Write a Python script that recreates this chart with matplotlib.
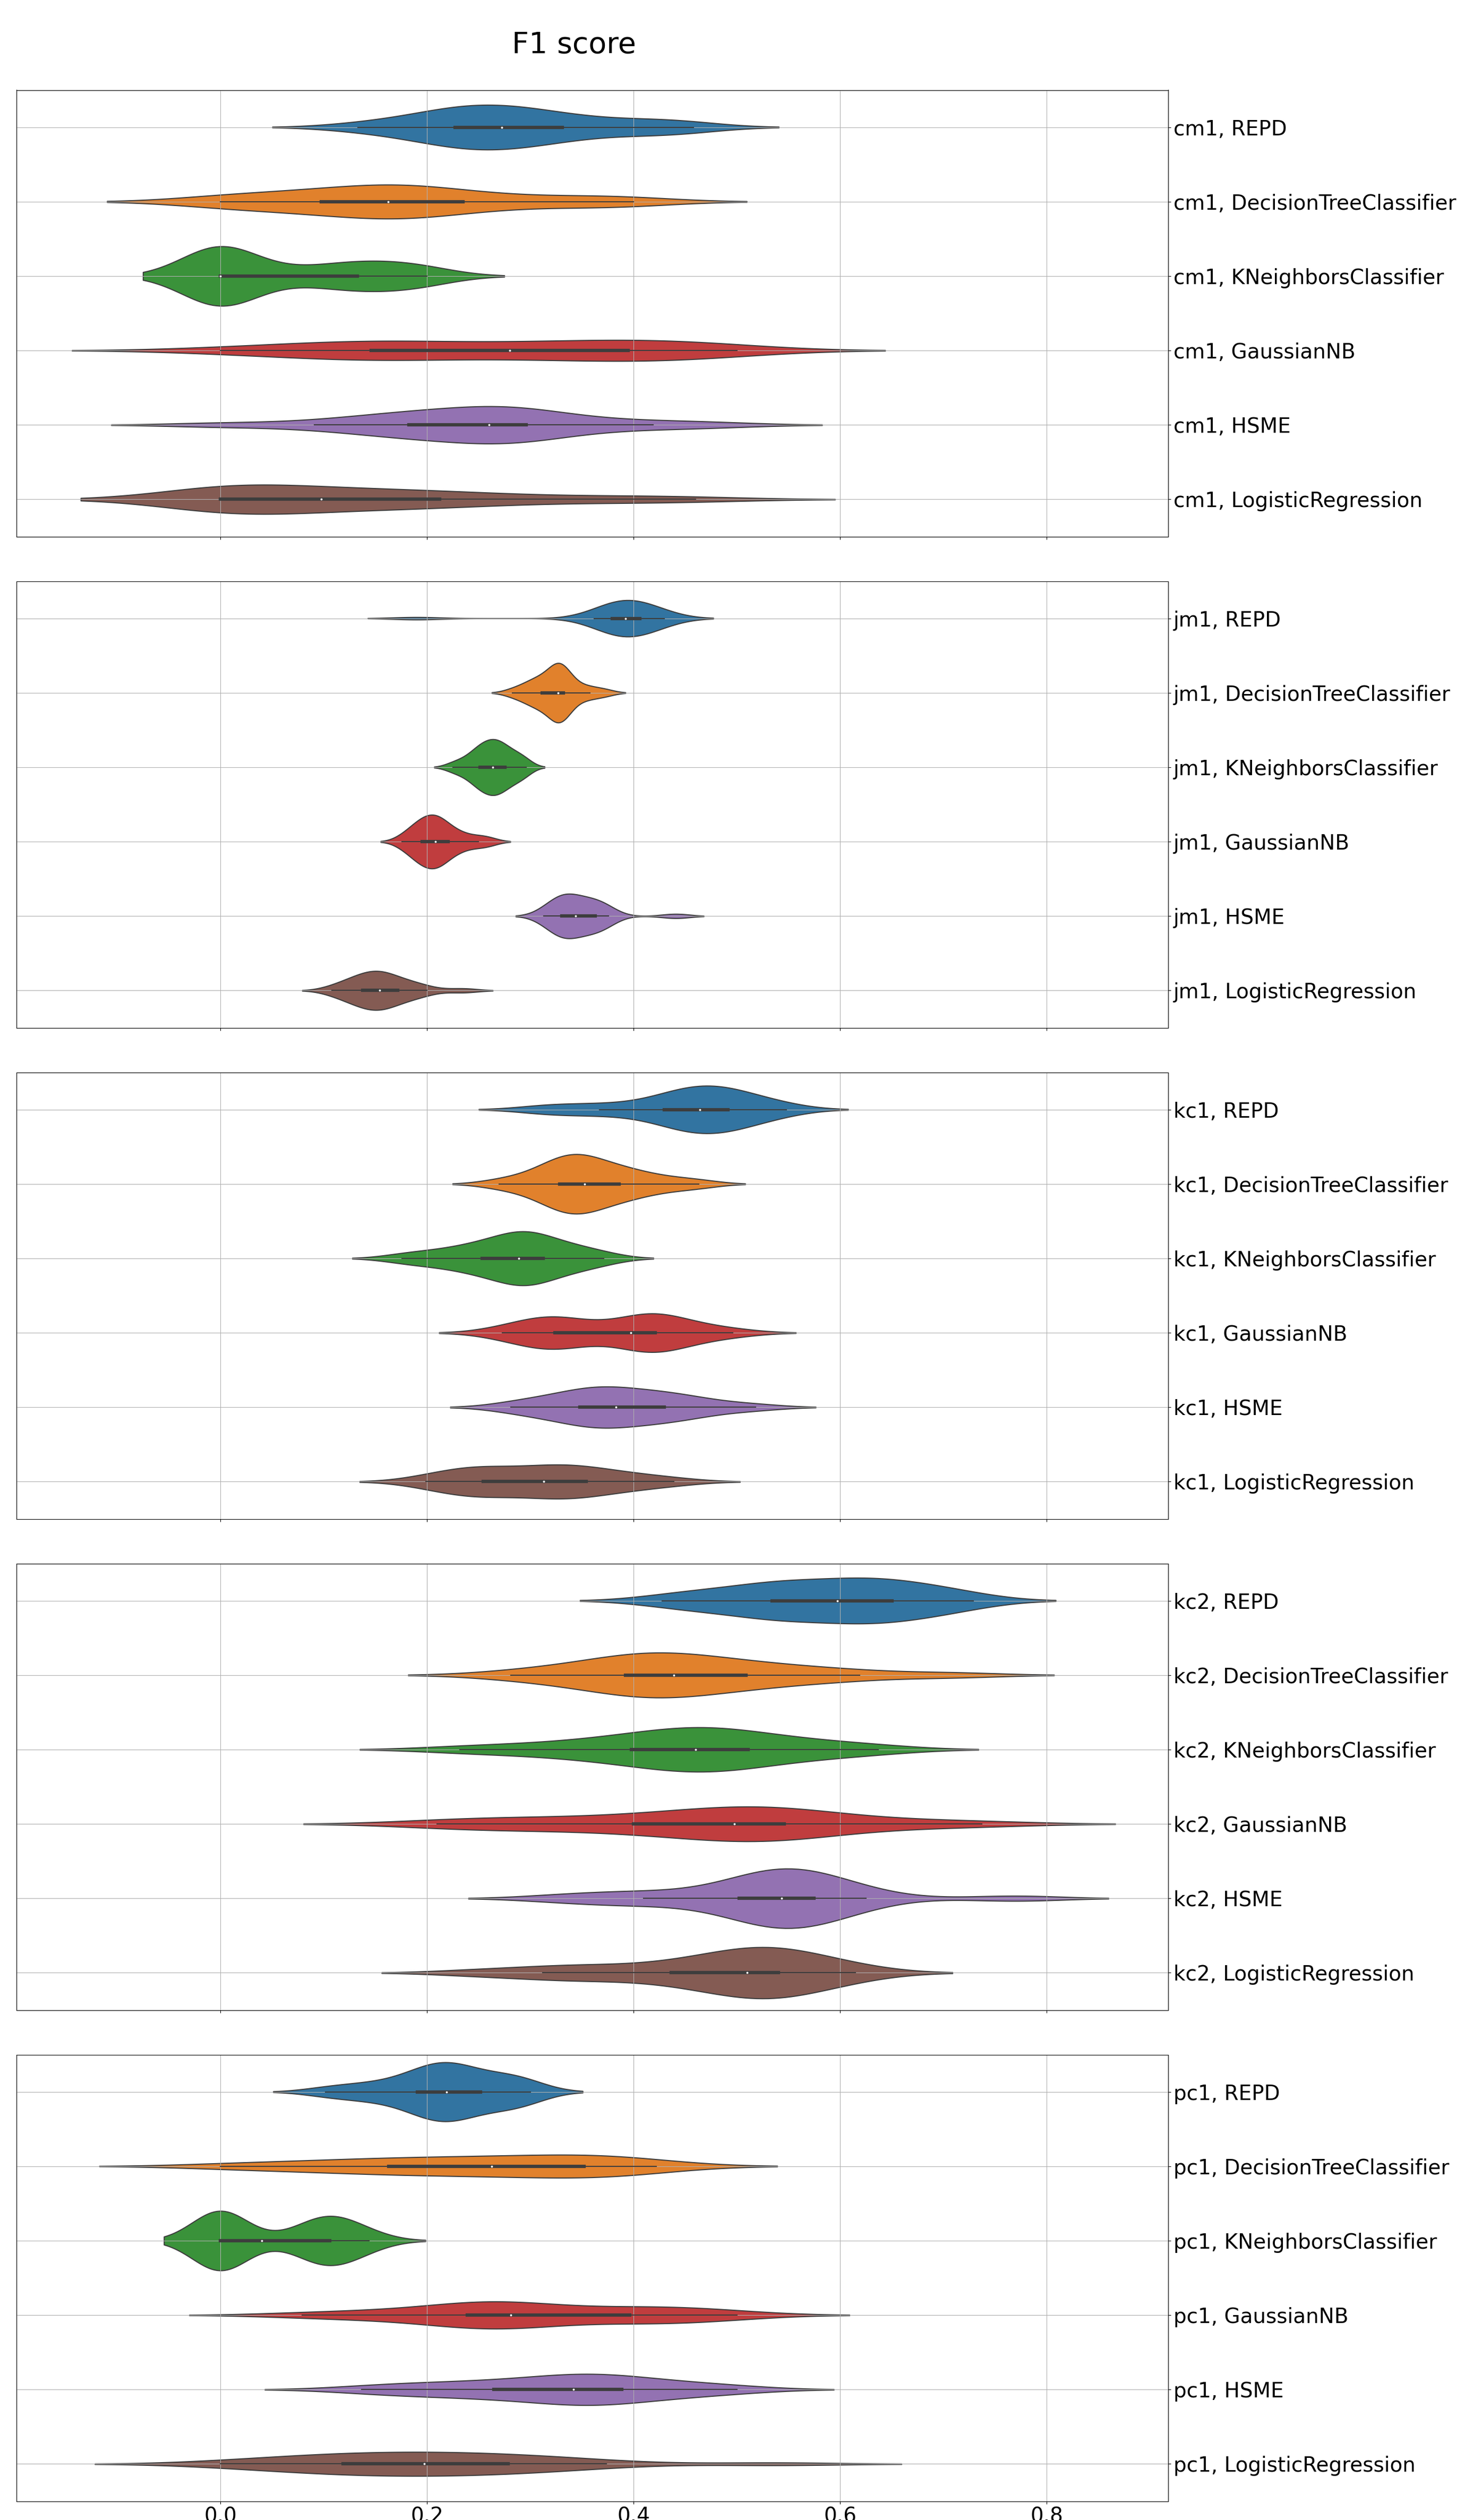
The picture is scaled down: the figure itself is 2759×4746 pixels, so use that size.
import numpy as np
import pandas as pd
import matplotlib
matplotlib.use("Agg")
import matplotlib.pyplot as plt
import seaborn as sns

datasets = ["cm1", "jm1", "kc1", "kc2", "pc1"]
models = ["REPD", "DecisionTreeClassifier", "KNeighborsClassifier",
          "GaussianNB", "HSME", "LogisticRegression"]

# ---- F1 scores per dataset / model (estimated from the figure) ----
cm1_REPD = [0.133, 0.17, 0.195, 0.21, 0.22, 0.23, 0.24, 0.25, 0.26, 0.265,
            0.28, 0.29, 0.30, 0.31, 0.325, 0.35, 0.37, 0.41, 0.43, 0.458]
cm1_DT = [0.0, 0.0, 0.04, 0.07, 0.09, 0.10, 0.125, 0.15, 0.157, 0.16,
          0.165, 0.185, 0.195, 0.205, 0.23, 0.25, 0.29, 0.34, 0.38, 0.40]
cm1_KNN = [0.0, 0.0, 0.0, 0.0, 0.0, 0.0, 0.0, 0.0, 0.0, 0.0,
           0.0, 0.07, 0.10, 0.12, 0.13, 0.14, 0.16, 0.18, 0.19, 0.20]
cm1_GNB = [0.0, 0.05, 0.09, 0.12, 0.14, 0.148, 0.17, 0.20, 0.23, 0.26,
           0.30, 0.32, 0.35, 0.37, 0.39, 0.41, 0.43, 0.45, 0.47, 0.50]
cm1_HSME = [0.0, 0.091, 0.13, 0.16, 0.175, 0.185, 0.20, 0.22, 0.24, 0.255,
            0.265, 0.27, 0.28, 0.29, 0.295, 0.30, 0.33, 0.37, 0.419, 0.477]
cm1_LR = [0.0, 0.0, 0.0, 0.0, 0.0, 0.0, 0.03, 0.06, 0.085, 0.095,
          0.10, 0.13, 0.16, 0.19, 0.21, 0.22, 0.27, 0.33, 0.40, 0.46]

jm1_REPD = [0.19, 0.362, 0.37, 0.375, 0.378, 0.38, 0.385, 0.388, 0.39, 0.392,
            0.393, 0.396, 0.40, 0.403, 0.405, 0.41, 0.415, 0.42, 0.424, 0.43]
jm1_DT = [0.283, 0.295, 0.30, 0.305, 0.31, 0.312, 0.318, 0.322, 0.325, 0.326,
          0.328, 0.329, 0.33, 0.331, 0.332, 0.333, 0.34, 0.35, 0.358, 0.372]
jm1_KNN = [0.225, 0.235, 0.242, 0.247, 0.25, 0.252, 0.255, 0.258, 0.261, 0.263,
           0.265, 0.267, 0.27, 0.272, 0.275, 0.278, 0.282, 0.287, 0.292, 0.296]
jm1_GNB = [0.176, 0.183, 0.188, 0.192, 0.194, 0.196, 0.199, 0.202, 0.205, 0.207,
           0.209, 0.211, 0.213, 0.216, 0.219, 0.225, 0.23, 0.238, 0.25, 0.26]
jm1_HSME = [0.313, 0.32, 0.324, 0.327, 0.329, 0.331, 0.334, 0.336, 0.339, 0.342,
            0.346, 0.349, 0.353, 0.358, 0.362, 0.366, 0.369, 0.372, 0.376, 0.441]
jm1_LR = [0.108, 0.118, 0.125, 0.13, 0.135, 0.139, 0.142, 0.145, 0.149, 0.152,
          0.156, 0.158, 0.161, 0.164, 0.17, 0.176, 0.182, 0.19, 0.2, 0.235]

kc1_REPD = [0.31, 0.335, 0.367, 0.39, 0.42, 0.433, 0.44, 0.445, 0.452, 0.46,
            0.468, 0.472, 0.478, 0.485, 0.49, 0.495, 0.505, 0.515, 0.53, 0.548]
kc1_DT = [0.27, 0.295, 0.31, 0.32, 0.325, 0.33, 0.335, 0.34, 0.343, 0.35,
          0.355, 0.358, 0.364, 0.372, 0.385, 0.39, 0.40, 0.415, 0.435, 0.463]
kc1_KNN = [0.176, 0.2, 0.22, 0.235, 0.248, 0.255, 0.265, 0.275, 0.282, 0.287,
           0.291, 0.295, 0.30, 0.305, 0.31, 0.32, 0.33, 0.34, 0.355, 0.371]
kc1_GNB = [0.273, 0.29, 0.305, 0.315, 0.32, 0.325, 0.33, 0.34, 0.36, 0.39,
           0.405, 0.41, 0.415, 0.418, 0.42, 0.425, 0.435, 0.45, 0.47, 0.496]
kc1_HSME = [0.281, 0.30, 0.318, 0.333, 0.343, 0.35, 0.358, 0.365, 0.372, 0.378,
            0.388, 0.395, 0.405, 0.415, 0.428, 0.435, 0.445, 0.46, 0.48, 0.518]
kc1_LR = [0.199, 0.215, 0.23, 0.24, 0.25, 0.256, 0.265, 0.28, 0.295, 0.308,
          0.318, 0.325, 0.333, 0.34, 0.352, 0.36, 0.375, 0.39, 0.41, 0.439]

kc2_REPD = [0.428, 0.46, 0.48, 0.505, 0.525, 0.537, 0.545, 0.555, 0.57, 0.59,
            0.605, 0.615, 0.622, 0.628, 0.647, 0.66, 0.67, 0.685, 0.705, 0.729]
kc2_DT = [0.281, 0.32, 0.35, 0.37, 0.385, 0.395, 0.405, 0.415, 0.425, 0.435,
          0.443, 0.455, 0.47, 0.49, 0.505, 0.52, 0.55, 0.58, 0.619, 0.708]
kc2_KNN = [0.232, 0.29, 0.33, 0.36, 0.385, 0.402, 0.415, 0.43, 0.445, 0.455,
           0.465, 0.475, 0.482, 0.49, 0.505, 0.53, 0.54, 0.565, 0.6, 0.637]
kc2_GNB = [0.21, 0.25, 0.29, 0.33, 0.37, 0.41, 0.43, 0.45, 0.47, 0.49,
           0.505, 0.515, 0.525, 0.535, 0.543, 0.555, 0.575, 0.61, 0.67, 0.737]
kc2_HSME = [0.33, 0.38, 0.41, 0.45, 0.495, 0.505, 0.515, 0.525, 0.533, 0.54,
            0.547, 0.552, 0.556, 0.56, 0.573, 0.58, 0.59, 0.605, 0.625, 0.77]
kc2_LR = [0.25, 0.312, 0.34, 0.37, 0.41, 0.445, 0.46, 0.475, 0.49, 0.505,
          0.515, 0.522, 0.528, 0.533, 0.538, 0.548, 0.56, 0.575, 0.595, 0.615]

pc1_REPD = [0.102, 0.13, 0.15, 0.17, 0.185, 0.193, 0.2, 0.207, 0.212, 0.217,
            0.221, 0.226, 0.232, 0.24, 0.248, 0.263, 0.275, 0.283, 0.292, 0.30]
pc1_DT = [0.0, 0.05, 0.09, 0.12, 0.15, 0.167, 0.19, 0.21, 0.235, 0.255,
          0.27, 0.29, 0.31, 0.33, 0.35, 0.358, 0.37, 0.385, 0.40, 0.422]
pc1_KNN = [0.0, 0.0, 0.0, 0.0, 0.0, 0.0, 0.0, 0.0, 0.0, 0.0,
           0.08, 0.09, 0.095, 0.10, 0.105, 0.108, 0.112, 0.12, 0.13, 0.144]
pc1_GNB = [0.079, 0.13, 0.17, 0.205, 0.228, 0.243, 0.252, 0.26, 0.268, 0.275,
           0.287, 0.30, 0.325, 0.355, 0.392, 0.41, 0.425, 0.445, 0.47, 0.50]
pc1_HSME = [0.137, 0.17, 0.2, 0.225, 0.25, 0.27, 0.29, 0.31, 0.325, 0.337,
            0.347, 0.355, 0.365, 0.375, 0.385, 0.4, 0.42, 0.44, 0.47, 0.50]
pc1_LR = [0.0, 0.04, 0.07, 0.09, 0.11, 0.122, 0.14, 0.16, 0.175, 0.19,
          0.205, 0.22, 0.235, 0.255, 0.275, 0.29, 0.31, 0.335, 0.374, 0.538]

scores = {
    "cm1": [cm1_REPD, cm1_DT, cm1_KNN, cm1_GNB, cm1_HSME, cm1_LR],
    "jm1": [jm1_REPD, jm1_DT, jm1_KNN, jm1_GNB, jm1_HSME, jm1_LR],
    "kc1": [kc1_REPD, kc1_DT, kc1_KNN, kc1_GNB, kc1_HSME, kc1_LR],
    "kc2": [kc2_REPD, kc2_DT, kc2_KNN, kc2_GNB, kc2_HSME, kc2_LR],
    "pc1": [pc1_REPD, pc1_DT, pc1_KNN, pc1_GNB, pc1_HSME, pc1_LR],
}
xticks = [0.0, 0.2, 0.4, 0.6, 0.8]
title = "F1 score"

# ---- layout ----
W, H = 2759, 4746
fig = plt.figure(figsize=(W / 100, H / 100), dpi=100)
palette = sns.color_palette("tab10", 6)

ax_left, ax_width = 31, 2169
first_top, pitch, ax_h = 169.5, 925, 841

for i, ds in enumerate(datasets):
    top = first_top + pitch * i
    ax = fig.add_axes([ax_left / W, 1 - (top + ax_h) / H, ax_width / W, ax_h / H])
    labels = [f"{ds}, {m}" for m in models]
    rows = []
    for lab, vals in zip(labels, scores[ds]):
        for v in vals:
            rows.append((lab, v))
    df = pd.DataFrame(rows, columns=["label", "f1"])
    sns.violinplot(data=df, x="f1", y="label", hue="label",
                   order=labels, hue_order=labels, palette=palette,
                   legend=False, inner="box", bw_adjust=0.87,
                   density_norm="area", common_norm=True, linewidth=1.5,
                   inner_kws=dict(box_width=4.5, whis_width=1.5, marker="."),
                   ax=ax)
    ax.set_xlim(-0.1974, 0.9177)
    ax.set_ylim(5.5, -0.5)
    ax.set_xticks(xticks)
    ax.grid(True)
    ax.yaxis.tick_right()
    ax.set_xlabel("")
    ax.set_ylabel("")
    ax.tick_params(labelsize=28)
    if i < len(datasets) - 1:
        ax.tick_params(axis="x", labelbottom=False)

fig.text(1081 / W, 1 - 100 / H, title, ha="center", va="baseline", fontsize=40)
fig.savefig("out.png", dpi=100)
